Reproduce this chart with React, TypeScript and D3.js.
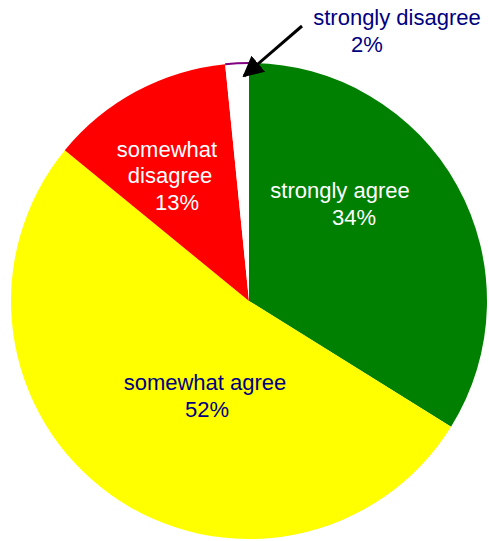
import { useEffect, useRef } from 'react'
import * as d3 from 'd3'

const categories = ['strongly agree', 'somewhat agree', 'somewhat disagree', 'strongly disagree']
const values = [33.9, 52.1, 12.5, 1.6]
const percentLabels = ['34%', '52%', '13%', '2%']
const colors = ['#008000', '#ffff00', '#ff0000', '#ffffff']

export default function App() {
  const svgRef = useRef<SVGSVGElement>(null)

  useEffect(() => {
    if (!svgRef.current) return
    const svg = d3.select(svgRef.current)
    svg.selectAll('*').remove()

    const width = 489
    const height = 541
    const cx = 249
    const cy = 301
    const r = 238

    const defs = svg.append('defs')
    defs.append('marker')
      .attr('id', 'arrowHead')
      .attr('viewBox', '0 0 10 10')
      .attr('refX', 9)
      .attr('refY', 5)
      .attr('markerWidth', 7)
      .attr('markerHeight', 7)
      .attr('markerUnits', 'strokeWidth')
      .attr('orient', 'auto')
      .append('path')
      .attr('d', 'M0,0 L10,5 L0,10 Z')
      .attr('fill', '#000')

    const g = svg.append('g').attr('transform', `translate(${cx},${cy})`)

    const pie = d3.pie<number>().sort(null).value(d => d)
    const arcs = pie(values)
    const arc = d3.arc<d3.PieArcDatum<number>>().innerRadius(0).outerRadius(r)

    g.selectAll('path.slice')
      .data(arcs)
      .join('path')
      .attr('class', 'slice')
      .attr('d', arc)
      .attr('fill', (d, i) => colors[i])

    // purple rim on the small slice
    const last = arcs[arcs.length - 1]
    const rim = d3.arc<any>().innerRadius(r - 1).outerRadius(r + 1)
    g.append('path')
      .attr('d', rim({ startAngle: last.startAngle, endAngle: last.endAngle }))
      .attr('fill', '#800080')

    // labels
    const labelLines: { lines: string[]; x: number[]; y: number[]; fill: string }[] = [
      { lines: [categories[0], percentLabels[0]], x: [340, 354], y: [198, 225], fill: '#ffffff' },
      { lines: [categories[1], percentLabels[1]], x: [205, 207], y: [390, 417], fill: '#000080' },
      { lines: ['somewhat', 'disagree', percentLabels[2]], x: [167, 170, 177], y: [157, 183, 210], fill: '#ffffff' },
      { lines: [categories[3], percentLabels[3]], x: [397, 367], y: [25, 52], fill: '#000080' },
    ]

    labelLines.forEach(l => {
      l.lines.forEach((t, i) => {
        svg.append('text')
          .attr('x', l.x[i])
          .attr('y', l.y[i])
          .attr('text-anchor', 'middle')
          .attr('font-family', '"Liberation Sans", Arial, sans-serif')
          .attr('font-size', 22)
          .attr('fill', l.fill)
          .text(t)
      })
    })

    // arrow pointing to the small slice
    svg.append('line')
      .attr('x1', 302)
      .attr('y1', 26)
      .attr('x2', 244)
      .attr('y2', 76)
      .attr('stroke', '#000')
      .attr('stroke-width', 3)
      .attr('marker-end', 'url(#arrowHead)')

    svg.attr('width', width).attr('height', height)
  }, [])

  return (
    <svg
      ref={svgRef}
      width={489}
      height={541}
      style={{ position: 'absolute', left: 0, top: 0, background: '#fff' }}
    />
  )
}
